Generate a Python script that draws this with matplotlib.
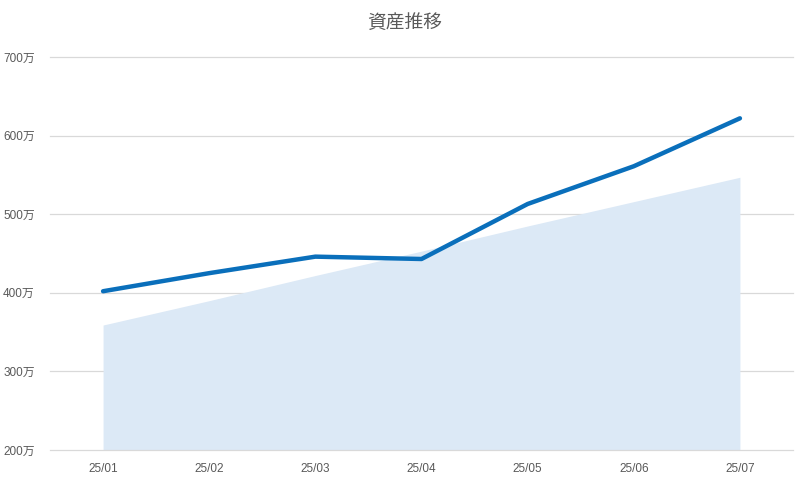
import matplotlib
matplotlib.use("Agg")
import matplotlib.pyplot as plt

plt.rcParams['font.family'] = ['Liberation Sans', 'Noto Sans CJK JP', 'DejaVu Sans']

months = ["25/01", "25/02", "25/03", "25/04", "25/05", "25/06", "25/07"]
assets = [402, 425, 446, 443, 513, 561, 622]
invested = [359, 390, 422, 453, 485, 516, 547]
yticks = [200, 300, 400, 500, 600, 700]
ytick_labels = [f"{v}万" for v in yticks]
title = "資産推移"

fig = plt.figure(figsize=(8.08, 4.78), dpi=100)
ax = fig.add_axes([50/808, 28/478, 743/808, 393/478])

x = list(range(len(months)))
ax.fill_between(x, invested, 200, color="#dce9f6", linewidth=0, zorder=2)
ax.plot(x, assets, color="#0a6fbb", linewidth=3.2, solid_capstyle="round", zorder=3)

ax.set_xlim(-0.5, len(months) - 0.5)
ax.set_ylim(200, 700)
ax.set_xticks(x)
ax.set_xticklabels(months)
ax.set_yticks(yticks)
ax.set_yticklabels(ytick_labels)
ax.tick_params(axis="both", length=0, labelsize=8.5, colors="#595959")
ax.tick_params(axis="x", pad=9)
ax.tick_params(axis="y", pad=11)
for lbl in ax.get_yticklabels():
    lbl.set_horizontalalignment("right")
ax.grid(False)
for v in yticks:
    ax.axhline(v, color="#d9d9d9", linewidth=0.9, zorder=1 if v > 200 else 2.5, clip_on=False)
for s in ax.spines.values():
    s.set_visible(False)

fig.text(405/808, 1 - 22/478, title, ha="center", va="center", fontsize=13.5,
         color="#595959", family=['Noto Sans CJK JP'])

fig.savefig("out.png", dpi=100)
